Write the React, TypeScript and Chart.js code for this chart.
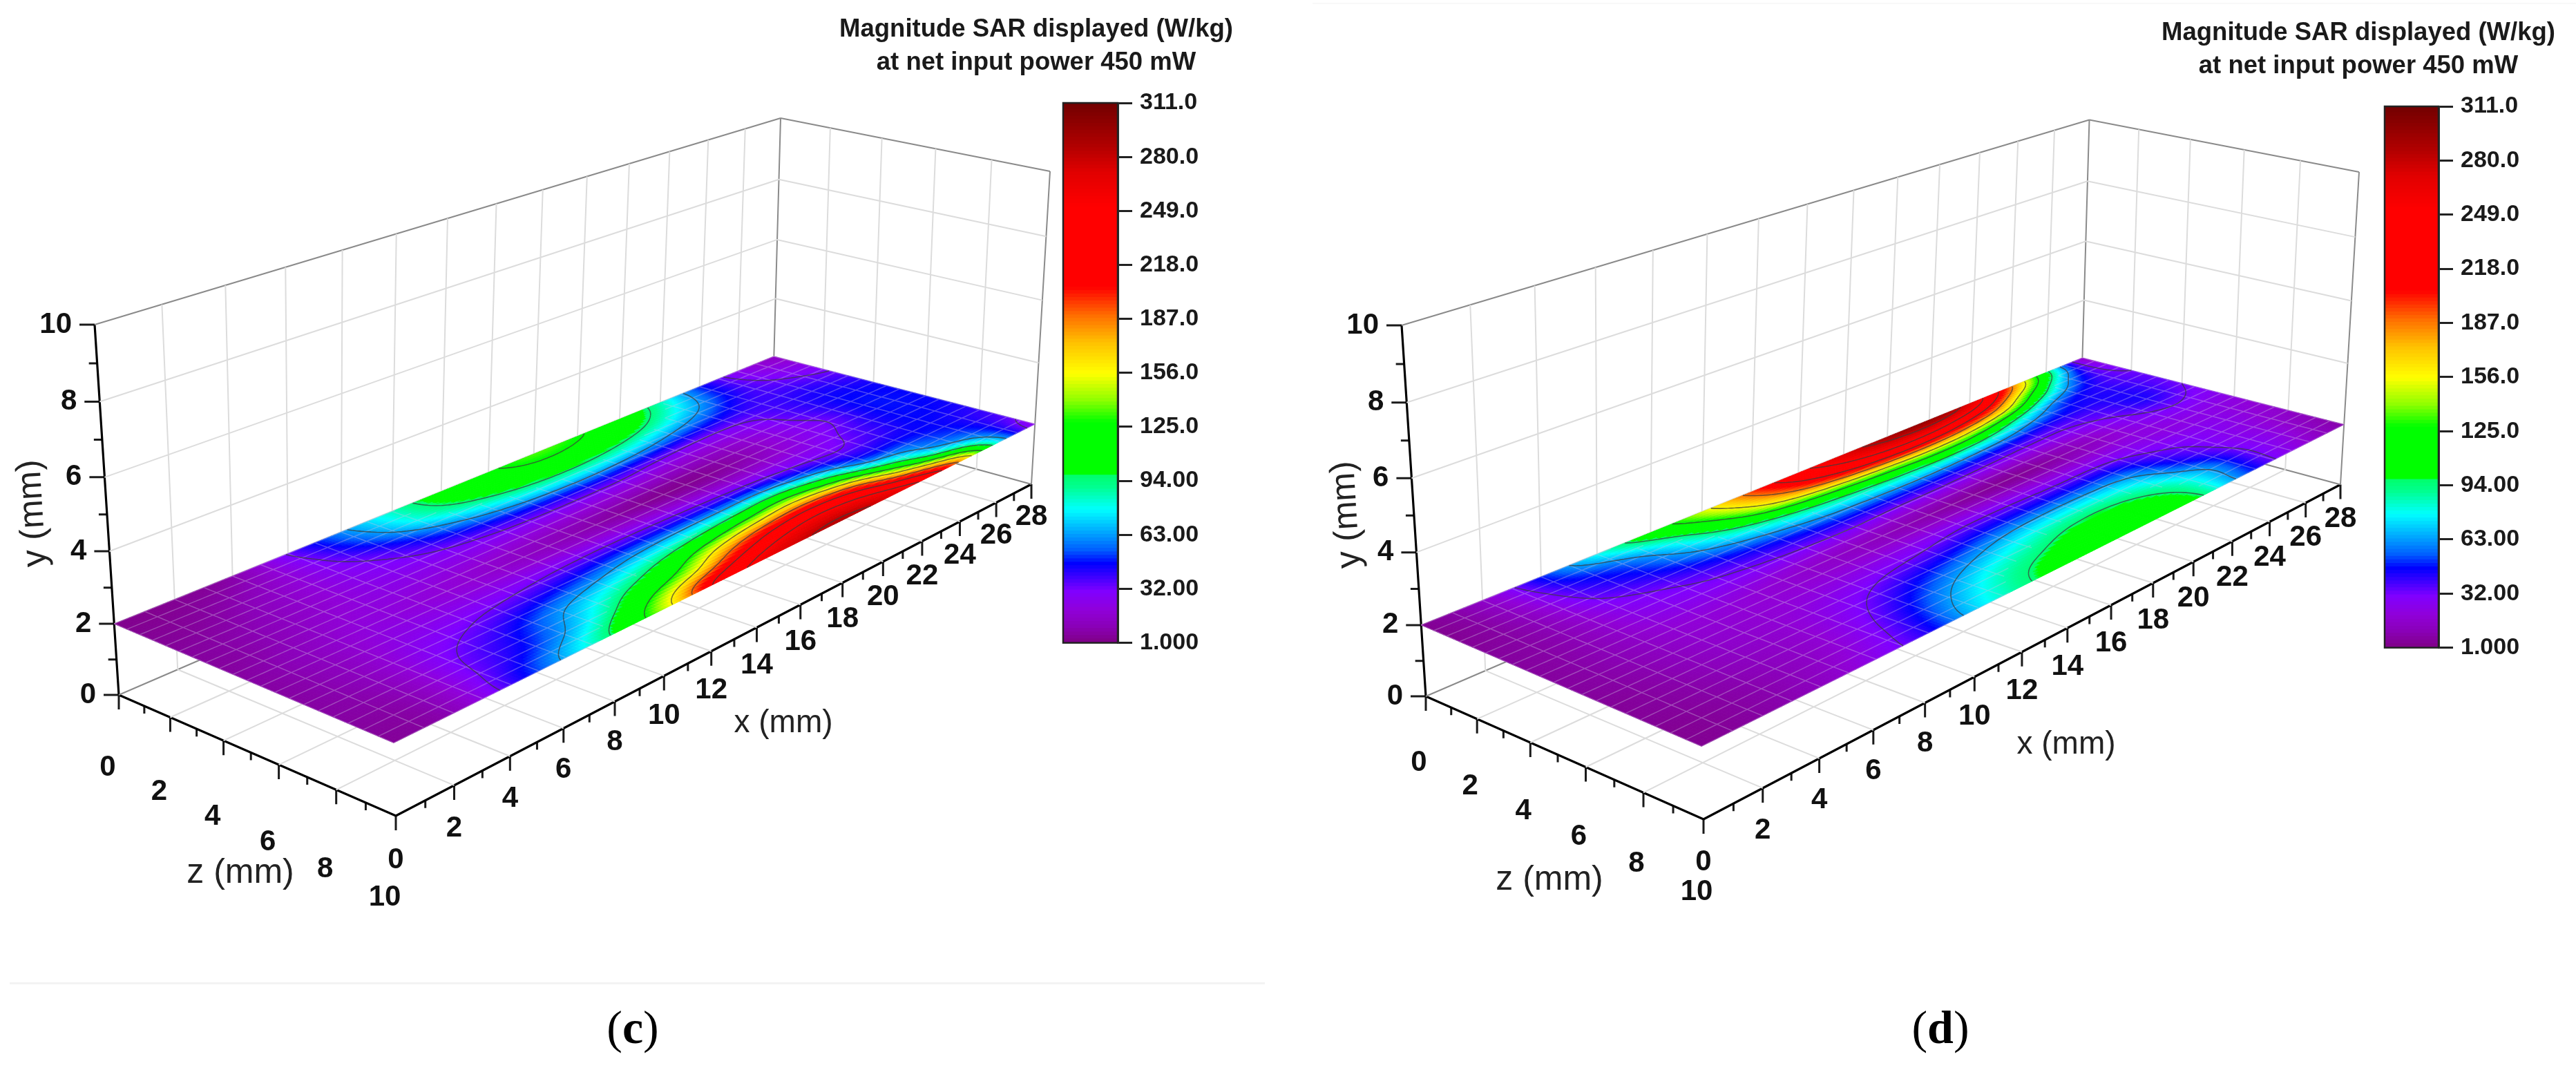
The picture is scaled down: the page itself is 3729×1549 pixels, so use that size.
import React, { useEffect, useRef } from "react";
import { Chart, registerables } from "chart.js";

Chart.register(...registerables);

// ---------- data ----------
const xGridMm = [0, 2, 4, 6, 8, 10, 12, 14, 16, 18, 20, 22, 24, 26, 28];
const zGridMm = [0, 1, 2, 3, 4, 5, 6, 7, 8, 9, 10];
const surfaceHeightMm = 2;

// SAR (W/kg): one row per z, one column per x
const sarPanelC = [
  [2, 3, 8, 33, 60, 84, 107, 122, 133, 127, 110, 85, 48, 25, 14],
  [3, 5, 12, 29, 52, 78, 97, 110, 114, 108, 94, 72, 46, 30, 22],
  [4, 7, 15, 26, 38, 56, 70, 80, 82, 76, 64, 52, 40, 36, 30],
  [5, 9, 16, 24, 29, 35, 40, 42, 42, 37, 33, 33, 38, 42, 38],
  [5, 10, 18, 22, 22, 22, 21, 20, 18, 15, 16, 24, 36, 45, 44],
  [6, 12, 20, 20, 18, 14, 10, 6, 3, 4, 10, 22, 32, 46, 46],
  [6, 12, 22, 25, 26, 27, 27, 26, 24, 21, 22, 26, 36, 46, 46],
  [6, 12, 26, 33, 40, 48, 56, 60, 62, 62, 48, 36, 40, 46, 44],
  [6, 11, 30, 42, 60, 76, 94, 113, 130, 140, 112, 64, 52, 46, 40],
  [5, 10, 33, 50, 75, 108, 140, 190, 222, 232, 210, 142, 80, 54, 35],
  [4, 10, 38, 66, 100, 150, 222, 258, 278, 285, 272, 240, 175, 75, 25],
];
const sarPanelD = [
  [3, 15, 48, 78, 110, 148, 195, 240, 270, 290, 296, 270, 195, 100, 14],
  [3, 13, 40, 56, 82, 120, 165, 200, 225, 235, 225, 190, 120, 60, 26],
  [4, 11, 33, 45, 62, 80, 98, 112, 124, 132, 122, 92, 58, 42, 32],
  [5, 10, 26, 34, 42, 50, 58, 62, 64, 62, 56, 46, 42, 42, 34],
  [5, 10, 22, 27, 29, 31, 32, 30, 29, 27, 26, 28, 34, 42, 32],
  [5, 10, 18, 20, 18, 15, 12, 8, 5, 4, 8, 15, 26, 32, 28],
  [5, 9, 16, 18, 20, 22, 24, 26, 26, 24, 24, 24, 22, 24, 22],
  [4, 8, 14, 18, 26, 34, 40, 48, 50, 50, 48, 34, 28, 24, 18],
  [4, 7, 12, 18, 32, 48, 62, 74, 82, 82, 72, 46, 30, 22, 15],
  [3, 6, 11, 20, 38, 62, 82, 94, 104, 104, 90, 64, 34, 22, 10],
  [3, 6, 12, 24, 42, 72, 92, 108, 120, 118, 98, 62, 33, 18, 8],
];

const xTicks = [0, 2, 4, 6, 8, 10, 12, 14, 16, 18, 20, 22, 24, 26, 28];
const zTicks = [0, 2, 4, 6, 8, 10];
const yTicks = [0, 2, 4, 6, 8, 10];
const colorbarTicks = [1, 32, 63, 94, 125, 156, 187, 218, 249, 280, 311];
const colorbarLabels = ["1.000", "32.00", "63.00", "94.00", "125.0", "156.0", "187.0", "218.0", "249.0", "280.0", "311.0"];
const contourLevels = [32, 63, 94, 125, 156, 187, 218, 249, 280];
const colorbarTitle = ["Magnitude SAR displayed (W/kg)", "at net input power 450 mW"];

// colour map stops: value, colour
const mapValues = [1, 10, 19, 30, 38, 46, 54, 63, 77, 90, 96, 97, 127, 140, 155, 173, 188, 200, 205, 251, 271, 286, 311];
const mapColors = [
  "#800088", "#8a00b8", "#9000d8", "#8000ff", "#4000ff", "#0000ff", "#0060ff", "#00a0ff", "#00ffff", "#00ff90", "#00ff70",
  "#00ff00", "#00ff00", "#90ff00", "#ffff00", "#ffc000", "#ff7000", "#ff2000", "#ff0000", "#ff0000", "#e00000", "#b00000", "#700000",
];

// ---------- styles and geometry ----------
type P = { x: number; y: number };
const FONT = "'Liberation Sans', Arial, sans-serif";
const PAGE_W = 3729;
const PAGE_H = 1549;

const panelC = {
  left: 0, width: 1864, table: sarPanelC,
  floor: [[172, 1006], [1118, 598], [1493, 701], [573, 1181]],
  roof: [[137, 470], [1130, 171], [1520, 248], [557, 631]],
  zLabel: { dx: -16, dy0: 105, dy1: 118 },
  xLabel: { dy0: 64, dy1: 47 },
  titles: { y: [48, 743], z: [348, 1264], x: [1134, 1047] },
};
const panelD = {
  left: 1864, width: 1865, table: sarPanelD,
  floor: [[2064, 1008], [3012, 600], [3388, 701.5], [2466, 1186]],
  roof: [[2029, 471], [3024.5, 173.5], [3415, 249], [2451, 636]],
  zLabel: { dx: -10, dy0: 96, dy1: 105 },
  xLabel: { dy0: 62, dy1: 50 },
  titles: { y: [1950, 745], z: [2243, 1274], x: [2991, 1078] },
};
const barC = { center: 1500, width: 620, barLeft: 1539, barRight: 1618, barTop: 149, barBottom: 932, titleCenter: 43 };
const barD = { center: 3414, width: 620, barLeft: 3452, barRight: 3530, barTop: 154, barBottom: 939, titleCenter: 48 };

function hexToRgb(h: string) {
  return [parseInt(h.slice(1, 3), 16), parseInt(h.slice(3, 5), 16), parseInt(h.slice(5, 7), 16)];
}
const mapRgb = mapColors.map(hexToRgb);
function colorFor(v: number) {
  if (v <= mapValues[0]) return mapColors[0];
  for (let i = 1; i < mapValues.length; i++) {
    if (v <= mapValues[i]) {
      const t = (v - mapValues[i - 1]) / (mapValues[i] - mapValues[i - 1]);
      const a = mapRgb[i - 1], b = mapRgb[i];
      return `rgb(${Math.round(a[0] + (b[0] - a[0]) * t)},${Math.round(a[1] + (b[1] - a[1]) * t)},${Math.round(a[2] + (b[2] - a[2]) * t)})`;
    }
  }
  return mapColors[mapColors.length - 1];
}

function quadMap(q: number[][]) {
  const [[x0, y0], [x1, y1], [x2, y2], [x3, y3]] = q;
  const dx1 = x1 - x2, dx2 = x3 - x2, sx = x0 - x1 + x2 - x3;
  const dy1 = y1 - y2, dy2 = y3 - y2, sy = y0 - y1 + y2 - y3;
  const den = dx1 * dy2 - dx2 * dy1;
  const g = (sx * dy2 - dx2 * sy) / den;
  const h = (dx1 * sy - sx * dy1) / den;
  const a = x1 - x0 + g * x1, b = x3 - x0 + h * x3;
  const d = y1 - y0 + g * y1, e = y3 - y0 + h * y3;
  return (u: number, v: number): P => {
    const w = g * u + h * v + 1;
    return { x: (a * u + b * v + x0) / w, y: (d * u + e * v + y0) / w };
  };
}

function makeProjection(panel: typeof panelC) {
  const floor = quadMap(panel.floor);
  const roof = quadMap(panel.roof);
  return (x: number, y: number, z: number): P => {
    const f = floor(x / 28, z / 10);
    const r = roof(x / 28, z / 10);
    const t0 = y / 10;
    const t = t0 * (0.95 + 0.05 * t0);
    return { x: f.x + (r.x - f.x) * t, y: f.y + (r.y - f.y) * t };
  };
}

function cubic(a: number, b: number, c: number, d: number, t: number) {
  return b + 0.5 * t * (c - a + t * (2 * a - 5 * b + 4 * c - d + t * (3 * (b - c) + d - a)));
}
function smoothTableValue(table: number[][], xi: number, zi: number) {
  // table position (column, row) read smoothly between the read-off nodes for drawing
  const nc = table[0].length, nr = table.length;
  const c = Math.min(Math.floor(xi), nc - 2), r = Math.min(Math.floor(zi), nr - 2);
  const tx = xi - c, tz = zi - r;
  const row = (k: number) => {
    const R = table[Math.max(0, Math.min(nr - 1, k))];
    const at = (m: number) => R[Math.max(0, Math.min(nc - 1, m))];
    return cubic(at(c - 1), at(c), at(c + 1), at(c + 2), tx);
  };
  return Math.max(1, Math.min(311, cubic(row(r - 1), row(r), row(r + 1), row(r + 2), tz)));
}

const GAP: P = { x: NaN, y: NaN };

function buildChart(canvas: HTMLCanvasElement, panel: typeof panelC) {
  const project = makeProjection(panel);
  const light: P[] = [], frame: P[] = [], axes: P[] = [], ticks: P[] = [];
  const seg = (list: P[], a: P, b: P) => list.push(a, b, GAP);

  // walls and floor grid
  for (let x = 2; x < 28; x += 2) {
    seg(light, project(x, 0, 0), project(x, 10, 0));
    seg(light, project(x, 0, 0), project(x, 0, 10));
  }
  for (let z = 2; z < 10; z += 2) {
    seg(light, project(0, 0, z), project(28, 0, z));
    seg(light, project(28, 0, z), project(28, 10, z));
  }
  for (let y = 2; y < 10; y += 2) {
    seg(light, project(0, y, 0), project(28, y, 0));
    seg(light, project(28, y, 0), project(28, y, 10));
  }
  seg(frame, project(0, 0, 0), project(28, 0, 0));
  seg(frame, project(28, 0, 0), project(28, 0, 10));
  seg(frame, project(0, 10, 0), project(28, 10, 0));
  seg(frame, project(28, 10, 0), project(28, 10, 10));
  seg(frame, project(28, 0, 0), project(28, 10, 0));
  seg(frame, project(28, 0, 10), project(28, 10, 10));

  // axes and tick marks
  seg(axes, project(0, 0, 0), project(0, 0, 10));
  seg(axes, project(0, 0, 10), project(28, 0, 10));
  seg(axes, project(0, 0, 0), project(0, 10, 0));
  for (let x = 0; x <= 28; x++) {
    const p = project(x, 0, 10);
    seg(ticks, p, { x: p.x, y: p.y + (x % 2 === 0 ? 21 : 11) });
  }
  for (let z = 0; z <= 10; z++) {
    const p = project(0, 0, z);
    seg(ticks, p, { x: p.x, y: p.y + (z % 2 === 0 ? 21 : 11) });
  }
  for (let y = 0; y <= 10; y++) {
    const p = project(0, y, 0);
    seg(ticks, p, { x: p.x - (y % 2 === 0 ? 22 : 12), y: p.y });
  }

  const surface = {
    id: "sarSurface",
    afterDatasetsDraw(chart: any) {
      const { ctx } = chart;
      const sx = chart.scales.x, sy = chart.scales.y;
      const perX = 16, perZ = 8;
      const cols = (xGridMm.length - 1) * perX, rows = (zGridMm.length - 1) * perZ;
      const val: number[][] = [], pxs: number[][] = [], pys: number[][] = [];
      for (let j = 0; j <= rows; j++) {
        val.push([]); pxs.push([]); pys.push([]);
        for (let i = 0; i <= cols; i++) {
          const xi = i / perX, zi = j / perZ;
          const xMm = xGridMm[0] + (xi * (xGridMm[1] - xGridMm[0]));
          const zMm = zGridMm[0] + (zi * (zGridMm[1] - zGridMm[0]));
          val[j].push(smoothTableValue(panel.table, xi, zi));
          const p = project(xMm, surfaceHeightMm, zMm);
          pxs[j].push(sx.getPixelForValue(p.x));
          pys[j].push(sy.getPixelForValue(p.y));
        }
      }
      ctx.save();
      ctx.lineWidth = 1;
      ctx.lineJoin = "round";
      for (let j = 0; j < rows; j++) {
        for (let i = 0; i < cols; i++) {
          const c = colorFor((val[j][i] + val[j][i + 1] + val[j + 1][i] + val[j + 1][i + 1]) / 4);
          ctx.fillStyle = c;
          ctx.strokeStyle = c;
          ctx.beginPath();
          ctx.moveTo(pxs[j][i], pys[j][i]);
          ctx.lineTo(pxs[j][i + 1], pys[j][i + 1]);
          ctx.lineTo(pxs[j + 1][i + 1], pys[j + 1][i + 1]);
          ctx.lineTo(pxs[j + 1][i], pys[j + 1][i]);
          ctx.closePath();
          ctx.fill();
          ctx.stroke();
        }
      }
      // mesh: 1 mm along x, 0.5 mm along z, visible over the low values
      ctx.strokeStyle = "rgba(205,190,225,0.36)";
      ctx.lineWidth = 1.5;
      ctx.beginPath();
      for (let j = 0; j <= rows; j += 4) {
        for (let i = 0; i < cols; i++) {
          if (val[j][i] < 85) { ctx.moveTo(pxs[j][i], pys[j][i]); ctx.lineTo(pxs[j][i + 1], pys[j][i + 1]); }
        }
      }
      for (let i = 0; i <= cols; i += 8) {
        for (let j = 0; j < rows; j++) {
          if (val[j][i] < 85) { ctx.moveTo(pxs[j][i], pys[j][i]); ctx.lineTo(pxs[j + 1][i], pys[j + 1][i]); }
        }
      }
      ctx.stroke();
      // contour lines
      ctx.strokeStyle = "rgba(60,60,60,0.72)";
      ctx.lineWidth = 1.6;
      ctx.beginPath();
      for (const lv of contourLevels) {
        for (let j = 0; j < rows; j++) {
          for (let i = 0; i < cols; i++) {
            const cn = [[i, j], [i + 1, j], [i + 1, j + 1], [i, j + 1]];
            const pts: number[][] = [];
            for (let k = 0; k < 4; k++) {
              const [ai, aj] = cn[k], [bi, bj] = cn[(k + 1) % 4];
              const va = val[aj][ai], vb = val[bj][bi];
              if ((va < lv) !== (vb < lv)) {
                const t = (lv - va) / (vb - va);
                pts.push([pxs[aj][ai] + (pxs[bj][bi] - pxs[aj][ai]) * t, pys[aj][ai] + (pys[bj][bi] - pys[aj][ai]) * t]);
              }
            }
            if (pts.length >= 2) { ctx.moveTo(pts[0][0], pts[0][1]); ctx.lineTo(pts[1][0], pts[1][1]); }
            if (pts.length === 4) { ctx.moveTo(pts[2][0], pts[2][1]); ctx.lineTo(pts[3][0], pts[3][1]); }
          }
        }
      }
      ctx.stroke();

      // tick labels and axis titles
      const toX = (v: number) => sx.getPixelForValue(v);
      const toY = (v: number) => sy.getPixelForValue(v);
      ctx.fillStyle = "#111";
      ctx.textBaseline = "middle";
      ctx.font = `bold 42px ${FONT}`;
      ctx.textAlign = "center";
      for (const x of xTicks) {
        const p = project(x, 0, 10);
        const f = x / 28;
        ctx.fillText(String(x), toX(p.x), toY(p.y + panel.xLabel.dy0 + (panel.xLabel.dy1 - panel.xLabel.dy0) * f));
      }
      for (const z of zTicks) {
        const p = project(0, 0, z);
        const f = z / 10;
        ctx.fillText(String(z), toX(p.x + panel.zLabel.dx), toY(p.y + panel.zLabel.dy0 + (panel.zLabel.dy1 - panel.zLabel.dy0) * f));
      }
      ctx.textAlign = "right";
      for (const y of yTicks) {
        const p = project(0, y, 0);
        ctx.fillText(String(y), toX(p.x - 33), toY(p.y));
      }
      ctx.textAlign = "center";
      ctx.fillStyle = "#222";
      ctx.font = `50px ${FONT}`;
      ctx.fillText("z (mm)", toX(panel.titles.z[0]), toY(panel.titles.z[1]));
      ctx.font = `46px ${FONT}`;
      ctx.fillText("x (mm)", toX(panel.titles.x[0]), toY(panel.titles.x[1]));
      ctx.save();
      ctx.translate(toX(panel.titles.y[0]), toY(panel.titles.y[1]));
      ctx.rotate((-93.5 * Math.PI) / 180);
      ctx.font = `50px ${FONT}`;
      ctx.fillText("y (mm)", 0, 0);
      ctx.restore();
      ctx.restore();
    },
  };

  const line = (data: P[], color: string, width: number) => ({
    type: "scatter" as const,
    data,
    showLine: true,
    spanGaps: false,
    pointRadius: 0,
    borderColor: color,
    borderWidth: width,
    borderCapStyle: "butt" as const,
  });

  return new Chart(canvas, {
    type: "scatter",
    data: {
      datasets: [line(light, "#dcdcdc", 2), line(frame, "#8a8a8a", 2), line(axes, "#000", 3.2), line(ticks, "#1a1a1a", 3)] as any,
    },
    options: {
      animation: false,
      responsive: false,
      devicePixelRatio: 1,
      layout: { padding: 0 },
      plugins: { legend: { display: false }, tooltip: { enabled: false }, title: { display: false } },
      scales: {
        x: { type: "linear", display: false, min: panel.left, max: panel.left + panel.width },
        y: { type: "linear", display: false, min: 0, max: PAGE_H, reverse: true },
      },
    } as any,
    plugins: [surface],
  });
}

function buildColorbar(canvas: HTMLCanvasElement, bar: typeof barC) {
  const canvasLeft = bar.center - bar.width / 2;
  const levels: number[] = [];
  for (let v = 1; v < 311; v += 2) levels.push(v);
  const frame = {
    id: "barFrame",
    afterDraw(chart: any) {
      const { left, right, top, bottom } = chart.chartArea;
      const ctx = chart.ctx;
      ctx.save();
      ctx.strokeStyle = "#222";
      ctx.lineWidth = 2.5;
      ctx.strokeRect(left, top, right - left, bottom - top);
      ctx.fillStyle = "#1a1a1a";
      ctx.font = `bold 36.5px ${FONT}`;
      ctx.textAlign = "center";
      ctx.textBaseline = "middle";
      colorbarTitle.forEach((t, i) => ctx.fillText(t, bar.width / 2, bar.titleCenter + i * 48));
      ctx.restore();
    },
  };
  return new Chart(canvas, {
    type: "bar",
    data: {
      labels: ["SAR"],
      datasets: levels.map((v) => ({
        data: [[v, Math.min(311, v + 2.4)]],
        backgroundColor: colorFor(v + 1),
        borderWidth: 0,
        barPercentage: 1,
        categoryPercentage: 1,
        grouped: false,
      })) as any,
    },
    options: {
      animation: false,
      responsive: false,
      devicePixelRatio: 1,
      layout: { padding: { left: bar.barLeft - canvasLeft, right: 0, top: bar.barTop, bottom: 30 } },
      plugins: { legend: { display: false }, tooltip: { enabled: false }, title: { display: false } },
      scales: {
        x: { display: false },
        y: {
          position: "right",
          min: 1,
          max: 311,
          afterBuildTicks(s: any) { s.ticks = colorbarTicks.map((value) => ({ value })); },
          afterFit(s: any) { s.width = canvasLeft + bar.width - bar.barRight; },
          grid: { display: true, drawOnChartArea: false, drawTicks: true, tickLength: 21, color: "#222", lineWidth: 3 },
          border: { display: true, color: "#333", width: 3 },
          ticks: {
            autoSkip: false,
            padding: 11,
            color: "#1a1a1a",
            font: { family: FONT, size: 34, weight: "bold" },
            callback: (v: any) => colorbarLabels[colorbarTicks.indexOf(Number(v))],
          },
        },
      },
    } as any,
    plugins: [frame],
  });
}

const abs = (left: number, top: number): React.CSSProperties => ({ position: "absolute", left, top, display: "block" });

function Caption({ center, letter }: { center: number; letter: string }) {
  return (
    <div
      style={{
        position: "absolute", left: center - 100, width: 200, top: 1447, textAlign: "center", color: "#000",
        fontFamily: "'Liberation Serif', serif", fontSize: 68, lineHeight: "80px",
      }}
    >
      (<b>{letter}</b>)
    </div>
  );
}

export default function App() {
  const c3d = useRef<HTMLCanvasElement>(null);
  const d3d = useRef<HTMLCanvasElement>(null);
  const cBar = useRef<HTMLCanvasElement>(null);
  const dBar = useRef<HTMLCanvasElement>(null);
  useEffect(() => {
    const charts = [
      buildChart(c3d.current!, panelC),
      buildChart(d3d.current!, panelD),
      buildColorbar(cBar.current!, barC),
      buildColorbar(dBar.current!, barD),
    ];
    return () => charts.forEach((c) => c.destroy());
  }, []);
  return (
    <div style={{ position: "absolute", left: 0, top: 0, width: PAGE_W, height: PAGE_H, overflow: "hidden", background: "#fff" }}>
      <canvas ref={c3d} width={panelC.width} height={PAGE_H} style={abs(panelC.left, 0)} />
      <canvas ref={d3d} width={panelD.width} height={PAGE_H} style={abs(panelD.left, 0)} />
      <canvas ref={cBar} width={barC.width} height={barC.barBottom + 30} style={abs(barC.center - barC.width / 2, 0)} />
      <canvas ref={dBar} width={barD.width} height={barD.barBottom + 30} style={abs(barD.center - barD.width / 2, 0)} />
      <div style={{ position: "absolute", left: 14, top: 1422, width: 1817, height: 3, background: "#f3f3f3" }} />
      <div style={{ position: "absolute", left: 1900, top: 4, width: 1829, height: 2, background: "#f8f8f8" }} />
      <Caption center={916} letter="c" />
      <Caption center={2809} letter="d" />
    </div>
  );
}
